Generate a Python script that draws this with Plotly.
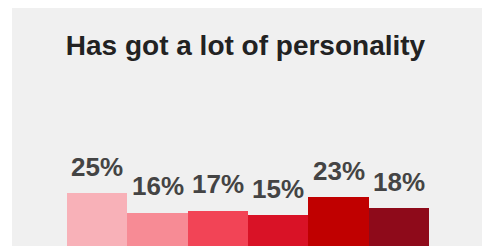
import plotly.graph_objects as go

title_text = "Has got a lot of personality"
categories = ["Group 1", "Group 2", "Group 3", "Group 4", "Group 5", "Group 6"]
values = [25, 16, 17, 15, 23, 18]
labels = ["25%", "16%", "17%", "15%", "23%", "18%"]
colors = ["#F8B1B8", "#F78B95", "#F24456", "#D91226", "#C00000", "#8E0A1A"]

# the page places the figure 8px right and down of the window origin
W, H = 490, 246
ML, MR, MT, MB = 59, 69, 0, 6
plot_w = W - ML - MR
plot_h = H - MT - MB
px_per_unit = 2.2

fig = go.Figure()
fig.add_trace(go.Bar(
    x=categories, y=values,
    marker=dict(color=colors, line=dict(width=0)),
    hoverinfo="skip", cliponaxis=False,
))

for c, v, t in zip(categories, values, labels):
    fig.add_annotation(
        x=c, y=v, text=t, showarrow=False,
        yanchor="bottom", xanchor="center", yshift=9.5,
        font=dict(family="Liberation Sans, Arial, sans-serif", size=26, color="#444444", weight="bold"),
    )

# gray background panel (white strip at the left)
fig.add_shape(
    type="rect", xref="paper", yref="paper",
    x0=(4 - ML) / plot_w, x1=(W - ML) / plot_w + 0.05,
    y0=-0.2, y1=1.2,
    fillcolor="#F0F0F0", line=dict(width=0), layer="below",
)

fig.update_layout(
    width=W, height=H,
    margin=dict(l=ML, r=MR, t=MT, b=MB, pad=0),
    paper_bgcolor="#FFFFFF", plot_bgcolor="rgba(0,0,0,0)",
    bargap=0,
    showlegend=False,
    title=dict(
        text=title_text, x=237.5 / W, xanchor="center",
        y=1 - 36.8 / H, yanchor="middle", yref="container",
        font=dict(family="Liberation Sans, Arial, sans-serif", size=28, color="#222222", weight="bold"),
    ),
    xaxis=dict(visible=False),
    yaxis=dict(visible=False, range=[0, plot_h / px_per_unit]),
)

fig.write_html("out.html")
